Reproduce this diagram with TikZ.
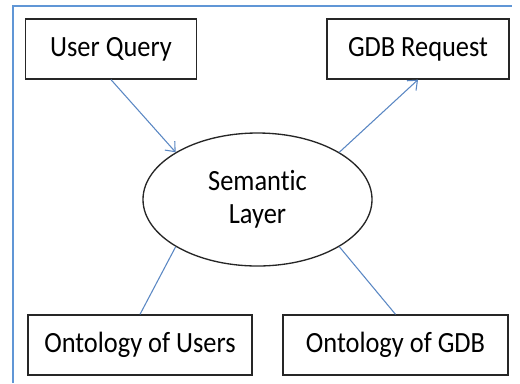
\documentclass[tikz,border=0pt]{standalone}
\usepackage{fontspec}
\setmainfont[FakeStretch=0.9,Ligatures=NoCommon]{Carlito}
\usetikzlibrary{arrows.meta,shapes.geometric}
\definecolor{framec}{RGB}{96,150,214}
\definecolor{linkc}{RGB}{90,135,195}
\tikzset{
  box/.style={draw=black!85, line width=1pt, minimum height=60*0.75pt, inner sep=0pt,
    font=\fontsize{22}{24.75}\selectfont},
  layer/.style={ellipse, draw=black!85, line width=1pt, inner sep=0pt,
    minimum width=229*0.75pt, minimum height=133*0.75pt, align=center,
    font=\fontsize{22}{24.75}\selectfont},
  link/.style={draw=linkc, line width=0.8pt},
  arrowlink/.style={link, -{Straight Barb[length=6pt,width=10pt,line width=0.8pt]}}
}
\begin{document}
\begin{tikzpicture}[x=0.75pt,y=-0.75pt]
  \useasboundingbox (0,0) rectangle (520,383);
  % outer frame: top and left edges only
  \draw[framec, line width=1.6pt] (13,383) -- (13,6) -- (512,6);

  \node[box, minimum width=171*0.75pt] (uq) at (111,49) {User Query};
  \node[box, minimum width=182*0.75pt] (gdb) at (418,49) {GDB Request};
  \node[box, minimum width=224*0.75pt] (ou) at (140,345) {Ontology of Users};
  \node[box, minimum width=225*0.75pt] (og) at (395.5,345) {Ontology of GDB};
  \node[layer] (sl) at (257.5,199.5) {Semantic\\Layer};

  \draw[arrowlink] (uq.south) -- (sl.150);
  \draw[arrowlink] (sl.30) -- (gdb.south);
  \draw[link] (sl.210) -- (ou.north);
  \draw[link] (sl.330) -- (og.north);
\end{tikzpicture}
\end{document}
